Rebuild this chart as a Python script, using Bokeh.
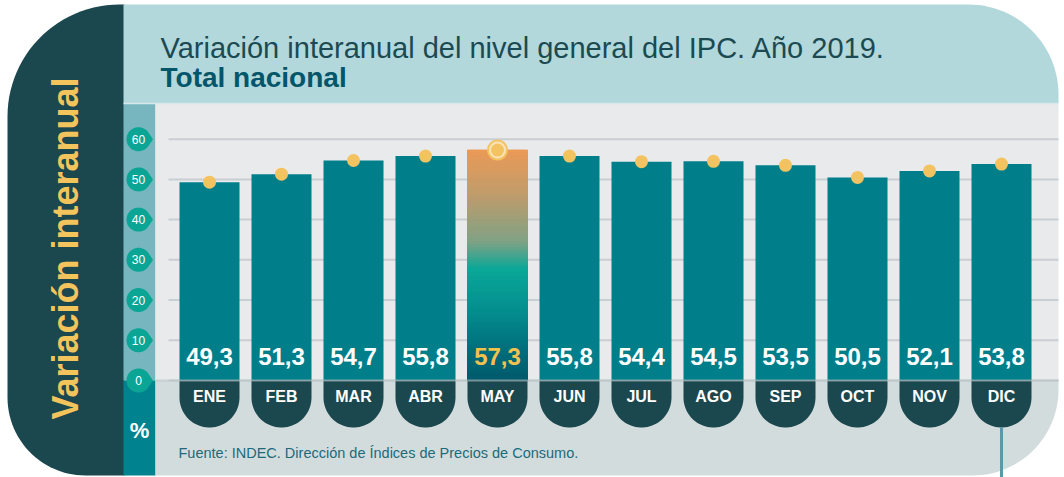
import numpy as np
from bokeh.plotting import figure
from bokeh.models import Range1d
from bokeh.core.properties import value
from bokeh.embed import file_html
from bokeh.resources import INLINE

# ---------------- data ----------------
months = ["ENE", "FEB", "MAR", "ABR", "MAY", "JUN", "JUL", "AGO", "SEP", "OCT", "NOV", "DIC"]
values = [49.3, 51.3, 54.7, 55.8, 57.3, 55.8, 54.4, 54.5, 53.5, 50.5, 52.1, 53.8]
y_ticks = [0, 10, 20, 30, 40, 50, 60]
title_line1 = "Variación interanual del nivel general del IPC. Año 2019."
title_line2 = "Total nacional"
side_title = "Variación interanual"
unit_label = "%"
source_note = "Fuente: INDEC. Dirección de Índices de Precios de Consumo."

# ---------------- layout helpers (pixel -> data) ----------------
W, H = 1064, 477
OFF = 0
X0, DX = 209.0, 72.0      # px of first category centre, px per category
Y0, KY = 380.0, 4.022     # px of zero, px per unit


def X(px):
    return (np.asarray(px, dtype=float) - X0) / DX


def Y(py):
    return (Y0 - np.asarray(py, dtype=float)) / KY


def arc(cx, cy, r, a0, a1, n=28):
    if r == 0:
        return [(cx, cy)]
    t = np.radians(np.linspace(a0, a1, n))
    return list(zip(cx + r * np.cos(t), cy + r * np.sin(t)))


def rrect(x0, y0, x1, y1, tl=0, tr=0, br=0, bl=0):
    pts = []
    pts += arc(x0 + tl, y0 + tl, tl, 180, 270)
    pts += arc(x1 - tr, y0 + tr, tr, 270, 360)
    pts += arc(x1 - br, y1 - br, br, 0, 90)
    pts += arc(x0 + bl, y1 - bl, bl, 90, 180)
    xs, ys = zip(*pts)
    return list(X(xs)), list(Y(ys))


FONT = value("Liberation Sans")
DARK = "#1b474e"
BAR = "#007f8b"
YELLOW = "#f3c361"

p = figure(width=W, height=H, output_backend="svg", toolbar_location=None,
           x_range=Range1d(float(X(OFF)), float(X(OFF + W))),
           y_range=Range1d(float(Y(OFF + H)), float(Y(OFF))),
           min_border=0, outline_line_color=None,
           background_fill_color="white", border_fill_color="white")
p.axis.visible = False
p.grid.visible = False

# ---------------- background panels ----------------
def panel(shape, color):
    xs, ys = shape
    p.patch(xs, ys, fill_color=color, line_color=None)

panel(rrect(7, 4, 124, 475, tl=112, bl=78), DARK)              # left dark band
panel(rrect(123, 4, 1058, 103, tr=90), "#b2d8dc")              # header
panel(rrect(123, 103, 155, 380), "#78b6bf")                    # tick column
panel(rrect(123, 380, 155, 475), "#00838e")                    # unit column
panel(rrect(155, 103, 1058, 380), "#e9eaec")                   # plot area
panel(rrect(155, 380, 1058, 475, br=86), "#d2dcdd")            # bottom area
p.segment(x0=[float(X(123))], y0=[float(Y(103))], x1=[float(X(1058))], y1=[float(Y(103))],
          line_color="#d6e8ea", line_width=1.5)

# ---------------- grid lines ----------------
p.segment(x0=[float(X(168))] * len(y_ticks), y0=y_ticks,
          x1=[float(X(1058))] * len(y_ticks), y1=y_ticks,
          line_color="#c9ced2", line_width=2)

# ---------------- y tick "drops" ----------------
for t in y_ticks:
    cy = Y0 - KY * t
    cx, r, tip = 138.0, 12.0, 14.5
    a = np.degrees(np.arccos(r / tip))
    pts = arc(cx, cy, r, a, 360 - a, n=40) + [(cx + tip, cy)]
    xs, ys = zip(*pts)
    p.patch(list(X(xs)), list(Y(ys)), fill_color="#0ba596", line_color=None)
p.text(x=[float(X(138))] * len(y_ticks), y=y_ticks, text=[str(t) for t in y_ticks],
       text_font=FONT, text_font_size="12px", text_color="white",
       text_align="center", text_baseline="middle")

# ---------------- bars ----------------
idx = list(range(len(months)))
bar_w = 60.0 / DX
p.vbar(x=idx, top=values, bottom=0, width=bar_w, fill_color=BAR, line_color=None)

# highlighted (maximum) bar with gradient
imax = int(np.argmax(values))
stops_t = [0.00, 0.20, 0.40, 0.52, 0.70, 0.88, 1.00]
stops_c = ["#ec9a56", "#bf9c6c", "#80a285", "#0aa898", "#058e8f", "#016c7b", "#005a6b"]
rgb = np.array([[int(c[i:i + 2], 16) for i in (1, 3, 5)] for c in stops_c], dtype=float)
N = 90
edges = np.linspace(values[imax], 0, N + 1)
tmid = (np.arange(N) + 0.5) / N
cols = []
for tt in tmid:
    cc = [np.interp(tt, stops_t, rgb[:, k]) for k in range(3)]
    cols.append("#%02x%02x%02x" % tuple(int(round(v)) for v in cc))
p.quad(left=[imax - bar_w / 2] * N, right=[imax + bar_w / 2] * N,
       top=list(edges[:-1]), bottom=list(edges[1:]), fill_color=cols,
       line_color=cols, line_width=1)

# ---------------- month tabs ----------------
for i in idx:
    cx = X0 + DX * i
    pts = [(cx - 30, 380), (cx + 30, 380)] + arc(cx, 397, 30, 0, 180, n=40)
    xs, ys = zip(*pts)
    p.patch(list(X(xs)), list(Y(ys)), fill_color=DARK, line_color=None)
p.segment(x0=[float(X(155))], y0=[0], x1=[float(X(1058))], y1=[0],
          line_color="#b9c3c6", line_width=2, line_alpha=0.6)
p.text(x=idx, y=[float(Y(396))] * len(idx), text=months, text_font=FONT,
       text_font_size="16px", text_font_style="bold", text_color="white",
       text_align="center", text_baseline="middle")

# connector line below last tab
p.segment(x0=[idx[-1]], y0=[float(Y(427))], x1=[idx[-1]], y1=[float(Y(480))],
          line_color="#5b98a9", line_width=3)

# ---------------- dots ----------------
p.scatter(x=[imax], y=[values[imax]], size=21, fill_color=YELLOW, line_color=None)
p.scatter(x=[imax], y=[values[imax]], size=17, fill_color="#f8e4b8", line_color=None)
p.scatter(x=idx, y=values, size=13, fill_color=YELLOW, line_color=None)

# ---------------- value labels ----------------
labels = [("%.1f" % v).replace(".", ",") for v in values]
lab_cols = ["#f3c14e" if i == imax else "white" for i in idx]
p.text(x=idx, y=[float(Y(355.5))] * len(idx), text=labels, text_font=FONT,
       text_font_size="24px", text_font_style="bold", text_color=lab_cols,
       text_align="center", text_baseline="middle")

# ---------------- titles and notes ----------------
p.text(x=[float(X(160))], y=[float(Y(47.5))], text=[title_line1], text_font=FONT,
       text_font_size="29px", text_color="#1b4a52", text_align="left", text_baseline="middle")
p.text(x=[float(X(160))], y=[float(Y(77))], text=[title_line2], text_font=FONT,
       text_font_size="28px", text_font_style="bold", text_color="#03566a",
       text_align="left", text_baseline="middle")
p.text(x=[float(X(65))], y=[float(Y(248))], text=[side_title], text_font=FONT,
       text_font_size="36px", text_font_style="bold", text_color="#f3c45c",
       text_align="center", text_baseline="middle", angle=np.pi / 2)
p.text(x=[float(X(139))], y=[float(Y(430))], text=[unit_label], text_font=FONT,
       text_font_size="22px", text_font_style="bold", text_color="white",
       text_align="center", text_baseline="middle")
p.text(x=[float(X(178))], y=[float(Y(452))], text=[source_note], text_font=FONT,
       text_font_size="14.5px", text_color="#1d6a7a", text_align="left", text_baseline="middle")

open("out.html", "w").write(file_html(p, INLINE))
